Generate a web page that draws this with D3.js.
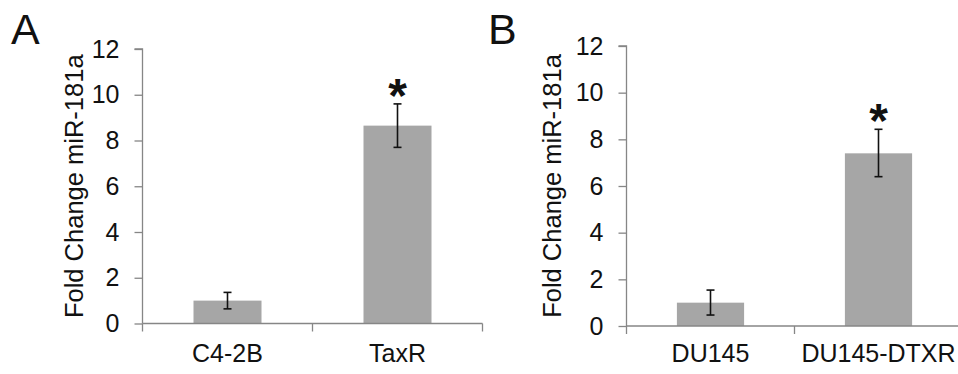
<html>
<script src="https://d3js.org/d3.v7.min.js"></script>
<body style="margin:0;background:#fff">
<svg width="958" height="374"></svg>
<script>
// ---------------- data ----------------
const yTicks = [0, 2, 4, 6, 8, 10, 12];

const categoriesA = ["C4-2B", "TaxR"];
const valuesA = [1.0, 8.65];
const errHighA = [1.36, 9.6];
const errLowA = [0.64, 7.7];
const starA = [false, true];

const categoriesB = ["DU145", "DU145-DTXR"];
const valuesB = [1.0, 7.4];
const errHighB = [1.54, 8.43];
const errLowB = [0.47, 6.4];
const starB = [false, true];

const svg = d3.select("svg");
const font = "'Liberation Sans', Arial, sans-serif";

function drawPanel(p) {
  const g = svg.append("g");
  const rows = p.categories.map((c, i) => ({
    cat: c, v: p.values[i], hi: p.errHigh[i], lo: p.errLow[i], star: p.stars[i]
  }));

  // scales
  const x = d3.scaleBand()
    .domain(p.categories)
    .range([p.left, p.left + p.catWidth * p.categories.length])
    .paddingInner(0.6).paddingOuter(0.3);
  const y = d3.scaleLinear().domain([0, 12]).range([p.bottom, p.top]);
  const cx = d => x(d.cat) + x.bandwidth() / 2;

  // bars
  g.selectAll("rect.bar")
    .data(rows)
    .enter().append("rect")
    .attr("x", d => x(d.cat))
    .attr("width", x.bandwidth())
    .attr("y", d => y(d.v))
    .attr("height", d => y(0) - y(d.v))
    .style("fill", "#a6a6a6");

  // y axis
  const yAxis = g.append("g")
    .attr("transform", "translate(" + p.left + ",0)")
    .call(d3.axisLeft(y).tickValues(yTicks).tickSize(8).tickPadding(15));
  yAxis.select(".domain").attr("d", "M-8," + y(12) + "H0V" + y(0)).style("stroke", "#868686").style("stroke-width", 1.3);
  yAxis.selectAll(".tick line").style("stroke", "#868686").style("stroke-width", 1.3);
  yAxis.selectAll(".tick text")
    .style("font-family", font).style("font-size", "25px").style("fill", "#111");

  // x axis
  const xEnd = p.left + p.catWidth * p.categories.length;
  g.append("line")
    .attr("x1", p.left).attr("x2", Math.min(xEnd, 958))
    .attr("y1", y(0)).attr("y2", y(0))
    .style("stroke", "#868686").style("stroke-width", 1.3);
  g.selectAll("line.xt")
    .data(d3.range(p.categories.length + 1))
    .enter().append("line")
    .attr("x1", d => p.left + d * p.catWidth).attr("x2", d => p.left + d * p.catWidth)
    .attr("y1", y(0)).attr("y2", y(0) + 8)
    .style("stroke", "#868686").style("stroke-width", 1.3);
  g.selectAll("text.xl")
    .data(p.categories)
    .enter().append("text")
    .attr("x", d => x(d) + x.bandwidth() / 2)
    .attr("y", 362)
    .attr("text-anchor", "middle")
    .style("font-family", font).style("font-size", "25px").style("fill", "#111")
    .text(d => d);

  // error bars
  const eb = g.selectAll("g.err")
    .data(rows)
    .enter().append("g")
    .style("stroke", "#111").style("stroke-width", 1.6);
  eb.append("line")
    .attr("x1", cx).attr("x2", cx)
    .attr("y1", d => y(d.hi)).attr("y2", d => y(d.lo));
  ["hi", "lo"].forEach(k => {
    eb.append("line")
      .attr("x1", d => cx(d) - 4).attr("x2", d => cx(d) + 4)
      .attr("y1", d => y(d[k])).attr("y2", d => y(d[k]));
  });

  // significance stars
  g.selectAll("text.star")
    .data(rows.filter(d => d.star))
    .enter().append("text")
    .attr("x", cx)
    .attr("y", d => y(d.hi) + 8)
    .attr("text-anchor", "middle")
    .style("font-family", font).style("font-size", "48px").style("font-weight", "bold")
    .style("fill", "#111")
    .text("*");

  // y title
  g.append("text")
    .attr("transform", "translate(" + (p.left - p.titleOffset) + "," + ((y(0) + y(12)) / 2) + ") rotate(-90)")
    .attr("text-anchor", "middle")
    .style("font-family", font).style("font-size", "25.5px").style("fill", "#111")
    .text("Fold Change miR-181a");

  // panel letter
  g.append("text")
    .attr("x", p.letterX).attr("y", 44)
    .style("font-family", font).style("font-size", "43px").style("fill", "#111")
    .text(p.letter);
}

drawPanel({
  categories: categoriesA, values: valuesA, errHigh: errHighA, errLow: errLowA, stars: starA,
  left: 142.5, catWidth: 170, top: 49, bottom: 323.5, letter: "A", letterX: 11, titleOffset: 60
});
drawPanel({
  categories: categoriesB, values: valuesB, errHigh: errHighB, errLow: errLowB, stars: starB,
  left: 626.5, catWidth: 168, top: 46, bottom: 326, letter: "B", letterX: 488, titleOffset: 66
});
</script>
</body>
</html>
